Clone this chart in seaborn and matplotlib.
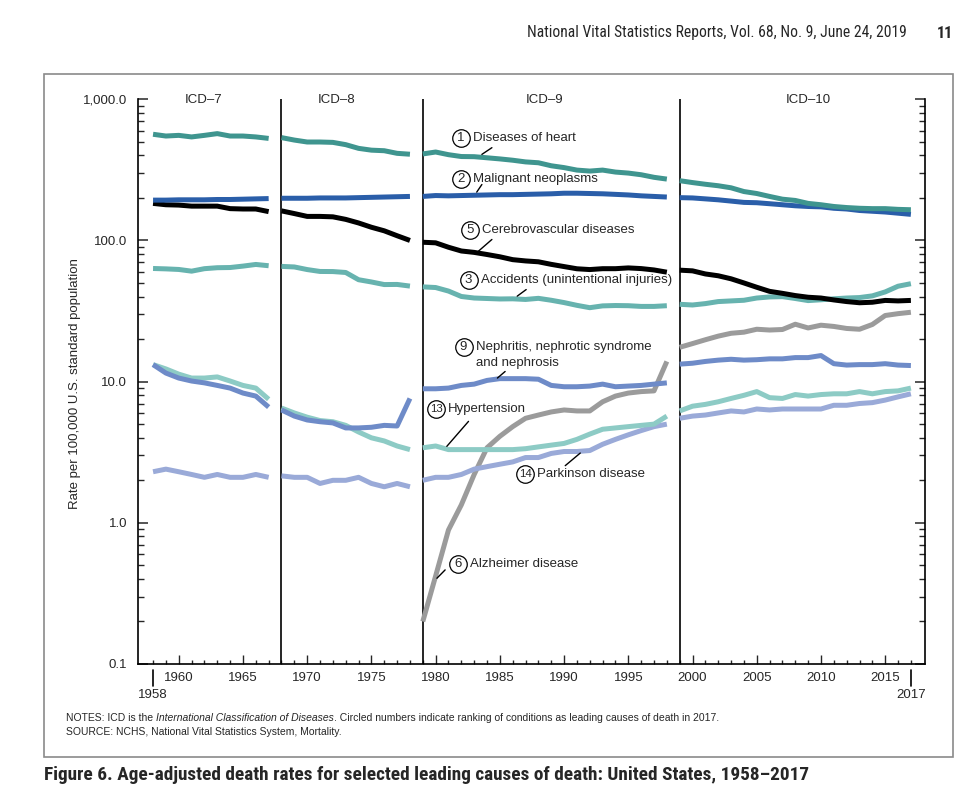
import numpy                as np
import pandas               as pd
import seaborn              as sns
import matplotlib.pyplot    as plt

from matplotlib             import font_manager
from matplotlib.patches     import Rectangle
from matplotlib.ticker      import FixedLocator, NullFormatter

# ======================================================================== DATA ========================================================================

YEARS_ICD7  = list(range(1958, 1968))
YEARS_ICD8  = list(range(1968, 1979))
YEARS_ICD9  = list(range(1979, 1999))
YEARS_ICD10 = list(range(1999, 2018))

heart_icd7   = [565, 549, 555, 541, 555, 571, 549, 549, 541, 528]
heart_icd8   = [535, 514, 498, 498, 495, 477, 449, 436, 432, 414, 408]
heart_icd9   = [410, 423, 405, 393, 392, 385, 378, 370, 360, 355, 338, 328, 315, 310, 315, 305, 300, 292, 280, 272]
heart_icd10  = [265, 257, 250, 244, 236, 222, 215, 205, 196, 192, 183, 179, 174, 171, 169, 168, 168, 166, 165]

cancer_icd7  = [193, 193, 194, 194, 194, 195, 195, 196, 197, 198]
cancer_icd8  = [199, 199, 199, 200, 200, 200, 201, 202, 203, 204, 205]
cancer_icd9  = [205, 208, 207, 208, 209, 210, 211, 211, 212, 213, 214, 216, 216, 215, 214, 212, 210, 207, 205, 203]
cancer_icd10 = [201, 200, 197, 194, 190, 186, 185, 182, 179, 176, 174, 173, 169, 167, 163, 161, 159, 156, 153]

stroke_icd7  = [183, 179, 178, 175, 175, 175, 168, 167, 167, 160]
stroke_icd8  = [162, 155, 148, 148, 147, 141, 133, 124, 117, 108, 100]
stroke_icd9  = [97.1, 96.2, 89.5, 84.2, 82.3, 79.5, 76.6, 73.1, 71.6, 70.6, 67.7, 65.3, 63.0, 62.2, 63.1, 63.1, 63.9, 63.2, 61.8, 59.6]
stroke_icd10 = [61.6, 60.9, 57.9, 56.2, 53.5, 50.0, 46.6, 43.6, 42.2, 40.7, 39.6, 39.1, 37.9, 36.9, 36.2, 36.5, 37.6, 37.3, 37.6]

accident_icd7  = [63.3, 62.9, 62.3, 60.6, 63.1, 64.1, 64.3, 65.8, 67.6, 66.2]
accident_icd8  = [65.5, 64.9, 62.2, 60.3, 60.2, 59.3, 52.7, 50.8, 48.7, 48.8, 47.5]
accident_icd9  = [46.9, 46.4, 43.8, 40.1, 39.1, 38.8, 38.5, 38.6, 38.2, 38.9, 37.7, 36.3, 34.7, 33.4, 34.4, 34.6, 34.5, 34.1, 34.1, 34.5]
accident_icd10 = [35.3, 34.9, 35.7, 36.9, 37.3, 37.7, 39.1, 39.8, 40.0, 38.8, 37.5, 38.0, 38.6, 39.1, 39.4, 40.5, 43.2, 47.4, 49.4]

nephritis_icd7  = [13.2, 11.5, 10.6, 10.1, 9.8, 9.4, 9.0, 8.3, 7.9, 6.6]
nephritis_icd8  = [6.3, 5.7, 5.35, 5.2, 5.1, 4.7, 4.7, 4.75, 4.9, 4.85, 7.6]
nephritis_icd9  = [8.9, 8.9, 9.0, 9.4, 9.6, 10.2, 10.5, 10.5, 10.5, 10.4, 9.4, 9.2, 9.2, 9.3, 9.6, 9.2, 9.3, 9.4, 9.6, 9.8]
nephritis_icd10 = [13.3, 13.5, 13.9, 14.2, 14.4, 14.2, 14.3, 14.5, 14.5, 14.8, 14.8, 15.3, 13.4, 13.1, 13.2, 13.2, 13.4, 13.1, 13.0]

hypertension_icd7  = [13.2, 12.3, 11.3, 10.6, 10.6, 10.8, 10.1, 9.4, 9.0, 7.5]
hypertension_icd8  = [6.5, 6.0, 5.6, 5.3, 5.2, 4.9, 4.4, 4.0, 3.8, 3.5, 3.3]
hypertension_icd9  = [3.4, 3.5, 3.3, 3.3, 3.3, 3.3, 3.3, 3.3, 3.35, 3.45, 3.55, 3.65, 3.9, 4.25, 4.6, 4.7, 4.8, 4.9, 5.0, 5.7]
hypertension_icd10 = [6.2, 6.7, 6.9, 7.2, 7.6, 8.0, 8.5, 7.7, 7.6, 8.1, 7.9, 8.1, 8.2, 8.2, 8.5, 8.2, 8.5, 8.6, 9.0]

parkinson_icd7  = [2.3, 2.4, 2.3, 2.2, 2.1, 2.2, 2.1, 2.1, 2.2, 2.1]
parkinson_icd8  = [2.15, 2.1, 2.1, 1.9, 2.0, 2.0, 2.1, 1.9, 1.8, 1.9, 1.8]
parkinson_icd9  = [2.0, 2.1, 2.1, 2.2, 2.4, 2.5, 2.6, 2.7, 2.9, 2.9, 3.1, 3.2, 3.2, 3.25, 3.6, 3.9, 4.2, 4.5, 4.8, 5.0]
parkinson_icd10 = [5.5, 5.7, 5.8, 6.0, 6.2, 6.1, 6.4, 6.3, 6.4, 6.4, 6.4, 6.4, 6.8, 6.8, 7.0, 7.1, 7.4, 7.8, 8.2]

alzheimer_icd9  = [0.2, 0.42, 0.89, 1.34, 2.2, 3.4, 4.1, 4.8, 5.5, 5.8, 6.1, 6.3, 6.2, 6.2, 7.2, 7.9, 8.3, 8.5, 8.6, 13.9]
alzheimer_icd10 = [17.5, 18.6, 19.8, 21.0, 22.0, 22.4, 23.5, 23.2, 23.4, 25.5, 24.0, 25.1, 24.6, 23.8, 23.5, 25.4, 29.4, 30.3, 31.0]

CAUSE_COLORS = {
    "Alzheimer disease":       "#9b9b9b",
    "Parkinson disease":       "#9aaad8",
    "Hypertension":            "#8dcbc5",
    "Nephritis":               "#6e8bc8",
    "Accidents":               "#67b3af",
    "Cerebrovascular":         "#000000",
    "Malignant neoplasms":     "#2a5ea9",
    "Diseases of heart":       "#3f958f",
}

# ======================================================================== BUILD TABLE ========================================================================

segments = {
    "Diseases of heart":   [heart_icd7, heart_icd8, heart_icd9, heart_icd10],
    "Malignant neoplasms": [cancer_icd7, cancer_icd8, cancer_icd9, cancer_icd10],
    "Cerebrovascular":     [stroke_icd7, stroke_icd8, stroke_icd9, stroke_icd10],
    "Accidents":           [accident_icd7, accident_icd8, accident_icd9, accident_icd10],
    "Nephritis":           [nephritis_icd7, nephritis_icd8, nephritis_icd9, nephritis_icd10],
    "Hypertension":        [hypertension_icd7, hypertension_icd8, hypertension_icd9, hypertension_icd10],
    "Parkinson disease":   [parkinson_icd7, parkinson_icd8, parkinson_icd9, parkinson_icd10],
    "Alzheimer disease":   [None, None, alzheimer_icd9, alzheimer_icd10],
}
icd_years = [("ICD-7", YEARS_ICD7), ("ICD-8", YEARS_ICD8), ("ICD-9", YEARS_ICD9), ("ICD-10", YEARS_ICD10)]

rows = []
for cause, series in segments.items():
    for (icd, years), values in zip(icd_years, series):
        if values is None:
            continue
        for year, value in zip(years, values):
            rows.append({"Year": year, "Rate": value, "Cause": cause, "ICD": icd})
df = pd.DataFrame(rows)

# ======================================================================== PLOT ========================================================================

sns.set_theme(style="white")
plt.rcParams['font.family'] = ['Liberation Sans', 'DejaVu Sans']

# look for a condensed face for the page header / caption
installed = {f.name for f in font_manager.fontManager.ttflist}
NARROW = [n for n in ['Liberation Sans Narrow', 'Arial Narrow', 'Roboto Condensed', 'DejaVu Sans Condensed'] if n in installed]
NARROW = NARROW + ['Liberation Sans', 'DejaVu Sans']

fig = plt.figure(figsize=(9.8, 8.07), dpi=100)
ax = fig.add_axes([0.1411, 0.1772, 0.8028, 0.6998])
renderer = fig.canvas.get_renderer()


def fit_text(x, y, s, width_px, size, **kw):
    # scale a figure text so it spans the width it has in the page
    t = fig.text(x, y, s, fontsize=size, **kw)
    w = t.get_window_extent(renderer=renderer).width
    t.set_fontsize(size * width_px / w)
    return t


# ICD boundaries
for boundary in [1968, 1979, 1999]:
    ax.axvline(boundary, color="black", lw=1.2, zorder=1)

sns.lineplot(data=df, x="Year", y="Rate", hue="Cause", units="ICD", estimator=None,
             palette=CAUSE_COLORS, hue_order=list(CAUSE_COLORS.keys()), lw=3.6,
             legend=False, ax=ax)
for line in ax.get_lines():
    line.set_solid_capstyle("butt")
    line.set_solid_joinstyle("round")

ax.set_yscale("log")
ax.set_ylim(0.1, 1000)
ax.set_xlim(1956.85, 2018.1)

ax.yaxis.set_major_locator(FixedLocator([0.1, 1, 10, 100, 1000]))
ax.set_yticklabels(["0.1", "1.0", "10.0", "100.0", "1,000.0"], fontsize=9.5)
minor_y = [m * 10.0 ** e for e in range(-1, 3) for m in range(2, 10)]
ax.yaxis.set_minor_locator(FixedLocator(minor_y))
ax.yaxis.set_minor_formatter(NullFormatter())

ax.xaxis.set_major_locator(FixedLocator(list(range(1960, 2016, 5))))
ax.set_xticklabels([str(y) for y in range(1960, 2016, 5)], fontsize=9.5)
ax.xaxis.set_minor_locator(FixedLocator(list(range(1958, 2018))))

ax.tick_params(axis="y", which="major", direction="in", length=7, width=1.1, left=True, right=True, pad=8)
ax.tick_params(axis="y", which="minor", direction="in", length=4.5, width=1.0, left=True, right=True)
ax.tick_params(axis="x", which="major", direction="in", length=6.5, width=1.0, bottom=True, pad=6)
ax.tick_params(axis="x", which="minor", direction="in", length=3.2, width=1.0, bottom=True)

for side in ["left", "bottom", "right"]:
    ax.spines[side].set_linewidth(1.2)
    ax.spines[side].set_color("black")
ax.spines["top"].set_visible(False)

ax.set_xlabel("")
ax.set_ylabel("Rate per 100,000 U.S. standard population", fontsize=9.5)
ax.yaxis.set_label_coords(-0.073, 0.496)

# first and last year marks
for year in [1958, 2017]:
    ax.plot([year, year], [0.0905, 0.0700], color="black", lw=1.2, clip_on=False)
    ax.text(year, 0.0600, str(year), ha="center", va="center", fontsize=9.5, clip_on=False)

# ICD headers
for label, xpos in [("ICD–7", 1961.9), ("ICD–8", 1972.3), ("ICD–9", 1988.5), ("ICD–10", 2009.0)]:
    ax.text(xpos, 984, label, ha="center", va="center", fontsize=9.5)


# circled-number labels
def circled_label(num, text, x, y, lead_from, lead_to, second_line=None):
    ax.plot([lead_from[0], lead_to[0]], [lead_from[1], lead_to[1]], color="black", lw=1.0, zorder=4)
    ax.plot([x], [y], marker="o", ms=12.6, mfc="white", mec="black", mew=0.9, zorder=5)
    ax.text(x, y, num, ha="center", va="center", fontsize=9.5 if len(num) == 1 else 8.2, zorder=6)
    ax.annotate(text, (x, y), xytext=(8.7, 0), textcoords="offset points",
                ha="left", va="center", fontsize=9.5, zorder=6)
    if second_line is not None:
        ax.annotate(second_line[0], (x, second_line[1]), xytext=(8.7, 0), textcoords="offset points",
                    ha="left", va="center", fontsize=9.5, zorder=6)


circled_label("1", "Diseases of heart", 1981.96, 529, (1984.38, 454), (1983.6, 407))
circled_label("2", "Malignant neoplasms", 1981.99, 272, (1983.6, 249), (1983.2, 220))
circled_label("5", "Cerebrovascular diseases", 1982.69, 117.8, (1984.38, 101.6), (1983.33, 83.9))
circled_label("3", "Accidents (unintentional injuries)", 1982.56, 52.3, (1987.05, 44.9), (1986.35, 40.3))
circled_label("9", "Nephritis, nephrotic syndrome", 1982.17, 17.6, (1985.41, 11.8), (1984.81, 10.6),
              second_line=("and nephrosis", 13.6))
circled_label("13", "Hypertension", 1980.04, 6.4, (1982.56, 5.23), (1980.87, 3.48))
circled_label("14", "Parkinson disease", 1986.97, 2.21, (1991.26, 3.12), (1990.09, 2.54))
circled_label("6", "Alzheimer disease", 1981.71, 0.51, (1980.74, 0.464), (1980.1, 0.405))

# ======================================================================== PAGE DECORATION ========================================================================

fig.patches.append(Rectangle((44 / 980, 1 - 757 / 807), (953 - 44) / 980, (757 - 74) / 807,
                             transform=fig.transFigure, fill=False, edgecolor="#8a8a8a", lw=1.2))

fit_text(907 / 980, 1 - 33 / 807, "National Vital Statistics Reports, Vol. 68, No. 9, June 24, 2019",
         378, 12, ha="right", va="center", family=NARROW)
fig.text(937 / 980, 1 - 33 / 807, "11", ha="left", va="center", fontsize=11.5, fontweight="bold", family=NARROW)

# notes with italic part
x_cursor = 66 / 980
notes_y = 1 - 718 / 807
for piece, style in [("NOTES: ICD is the ", "normal"), ("International Classification of Diseases", "italic"),
                     (". Circled numbers indicate ranking of conditions as leading causes of death in 2017.", "normal")]:
    t = fig.text(x_cursor, notes_y, piece, ha="left", va="center", fontsize=7.45, style=style)
    bb = t.get_window_extent(renderer=renderer)
    x_cursor += bb.width / fig.bbox.width
fig.text(66 / 980, 1 - 732 / 807, "SOURCE: NCHS, National Vital Statistics System, Mortality.",
         ha="left", va="center", fontsize=7.45)

fit_text(44 / 980, 1 - 775 / 807,
         "Figure 6. Age-adjusted death rates for selected leading causes of death: United States, 1958–2017",
         762, 13, ha="left", va="center", fontweight="bold", family=NARROW)

plt.savefig("out.png", dpi=100)
